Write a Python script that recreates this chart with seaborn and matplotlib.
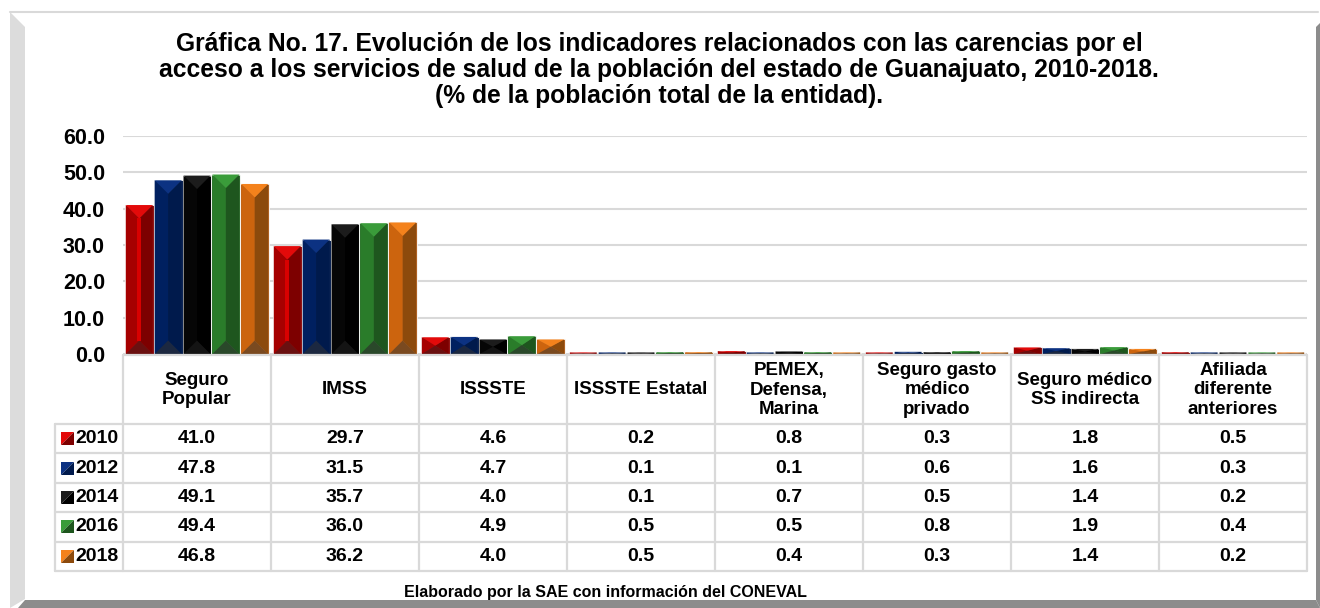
import matplotlib
matplotlib.use("Agg")
import matplotlib.pyplot as plt
import matplotlib.transforms as mtransforms
from matplotlib.patches import Polygon
import seaborn as sns
import pandas as pd

# ---- data ----
categories = ["Seguro\nPopular", "IMSS", "ISSSTE", "ISSSTE Estatal", "PEMEX,\nDefensa,\nMarina",
              "Seguro gasto\nmédico\nprivado", "Seguro médico\nSS indirecta", "Afiliada\ndiferente\nanteriores"]
years = ["2010", "2012", "2014", "2016", "2018"]
v2010 = [41.0, 29.7, 4.6, 0.2, 0.8, 0.3, 1.8, 0.5]
v2012 = [47.8, 31.5, 4.7, 0.1, 0.1, 0.6, 1.6, 0.3]
v2014 = [49.1, 35.7, 4.0, 0.1, 0.7, 0.5, 1.4, 0.2]
v2016 = [49.4, 36.0, 4.9, 0.5, 0.5, 0.8, 1.9, 0.4]
v2018 = [46.8, 36.2, 4.0, 0.5, 0.4, 0.3, 1.4, 0.2]
yticks = [0, 10, 20, 30, 40, 50, 60]

title = ("Gráfica No. 17. Evolución de los indicadores relacionados con las carencias por el\n"
         "acceso a los servicios de salud de la población del estado de Guanajuato, 2010-2018.\n"
         "(% de la población total de la entidad).")
source = "Elaborado por la SAE con información del CONEVAL"

# shades per year: top, left, right, bottom
shades = {
    "2010": ["#e30a0a", "#a60000", "#7d0000", "#6a1010"],
    "2012": ["#0c3282", "#002060", "#001a4c", "#1c2840"],
    "2014": ["#1c1c1c", "#060606", "#000000", "#141414"],
    "2016": ["#3a9c3a", "#2a7c2a", "#1e561e", "#2a482a"],
    "2018": ["#f4821c", "#cc640e", "#8c4a0c", "#7a4a20"],
}

series = [v2010, v2012, v2014, v2016, v2018]
rows = []
for yr, vals in zip(years, series):
    for c, v in zip(categories, vals):
        rows.append({"cat": c, "year": yr, "val": v})
df = pd.DataFrame(rows)

sns.set_theme(style="white")
plt.rcParams["font.family"] = ["Liberation Sans", "DejaVu Sans"]
plt.rcParams["font.weight"] = "bold"
plt.rcParams["text.color"] = "black"
plt.rcParams["ytick.color"] = "black"

W, H = 1320, 608
fig = plt.figure(figsize=(W / 100, H / 100), dpi=100)
fig.patch.set_facecolor("white")

def fx(x):
    return x / W

def fy(y):
    return 1 - y / H

ax = fig.add_axes([fx(123), fy(354), fx(1307) - fx(123), fy(136) - fy(354)])
sns.barplot(data=df, x="cat", y="val", hue="year", palette=[shades[y][1] for y in years],
            width=0.975, edgecolor="white", linewidth=0.6, legend=False, ax=ax, errorbar=None)
ax.set_xlim(-0.5, len(categories) - 0.5)
ax.set_ylim(0, 60)
ax.set_yticks(yticks)
ax.set_yticklabels([f"{t:.1f}" for t in yticks], fontsize=15.5, fontweight="bold", color="black")
ax.tick_params(axis="y", length=0, pad=13)
ax.set_xticks([])
ax.set_xlabel("")
ax.set_ylabel("")
for s in ax.spines.values():
    s.set_visible(False)
ax.grid(axis="y", color="#d9d9d9", linewidth=1.5)
ax.set_axisbelow(True)

# bevel look on each bar
p0 = ax.transData.transform((0, 0))
p1 = ax.transData.transform((1, 1))
ratio = (p1[0] - p0[0]) / (p1[1] - p0[1])
inset = 1.0 / (p1[0] - p0[0])
min_h = 1.6 / (p1[1] - p0[1])
for yr, cont in zip(years, ax.containers):
    top, left, right, bottom = shades[yr]
    for bar in cont:
        x0 = bar.get_x() + inset
        w = bar.get_width() - 2 * inset
        h = max(bar.get_height(), min_h)
        x1 = x0 + w
        xc = x0 + w / 2
        b = min(w / 2 * ratio, h / 2)
        polys = [
            ([(x0, 0), (xc, b), (xc, h - b), (x0, h)], left),
            ([(x1, 0), (xc, b), (xc, h - b), (x1, h)], right),
            ([(x0, h), (x1, h), (xc, h - b)], top),
            ([(x0, 0), (x1, 0), (xc, b)], bottom),
        ]
        for pts, col in polys:
            ax.add_patch(Polygon(pts, closed=True, facecolor=col, edgecolor="none", zorder=3))
        if yr == "2010" and h > 2 * b:
            sw = w * 0.07
            ax.add_patch(Polygon([(xc - sw, b), (xc + sw, b), (xc + sw, h - b), (xc - sw, h - b)],
                                 closed=True, facecolor="#d80000", edgecolor="none", zorder=3))

# ---- data table ----
tr = mtransforms.blended_transform_factory(ax.transData, fig.transFigure)
lc = "#d9d9d9"
head_top, head_bot = 355, 424
row_h = 29.4
n = len(categories)
table_bot = head_bot + row_h * len(years)

def hline(x0, x1, ypx, trans):
    fig.add_artist(plt.Line2D([x0, x1], [fy(ypx), fy(ypx)], transform=trans, color=lc, lw=1.6))

for i in range(n + 1):
    fig.add_artist(plt.Line2D([i - 0.5, i - 0.5], [fy(head_top), fy(table_bot)], transform=tr,
                              color=lc, lw=1.6))
hline(-0.5, n - 0.5, head_top, tr)
for r in range(len(years) + 1):
    hline(fx(55), fx(123), head_bot + r * row_h, fig.transFigure)
    hline(-0.5, n - 0.5, head_bot + r * row_h, tr)
fig.add_artist(plt.Line2D([fx(55), fx(55)], [fy(head_bot), fy(table_bot)], color=lc, lw=1.6))

for i, c in enumerate(categories):
    fig.text(i, fy((head_top + head_bot) / 2 + 0.5), c, transform=tr, ha="center", va="center",
             fontsize=13.5, fontweight="bold", linespacing=1.18)

for r, (yr, vals) in enumerate(zip(years, series)):
    yc = head_bot + (r + 0.5) * row_h
    for i, v in enumerate(vals):
        fig.text(i, fy(yc), f"{v:.1f}", transform=tr, ha="center", va="center",
                 fontsize=14, fontweight="bold")
    top, left, right, bottom = shades[yr]
    kx0, kx1, ky0, ky1 = fx(61), fx(74), fy(yc + 6.5), fy(yc - 6.5)
    fig.add_artist(Polygon([(kx0, ky0), (kx0, ky1), (kx1, ky1)], closed=True,
                           transform=fig.transFigure, facecolor=top, edgecolor="none"))
    fig.add_artist(Polygon([(kx0, ky0), (kx1, ky0), (kx1, ky1)], closed=True,
                           transform=fig.transFigure, facecolor=right, edgecolor="none"))
    fig.text(fx(75), fy(yc), yr, ha="left", va="center", fontsize=14, fontweight="bold")

# ---- title and source ----
fig.text(fx(659), fy(70), title, ha="center", va="center", fontsize=17.7, fontweight="bold",
         linespacing=1.08)
fig.text(fx(605), fy(592), source, ha="center", va="center", fontsize=11.5, fontweight="bold")

# ---- beveled frame ----
fig.add_artist(plt.Line2D([fx(10), fx(1318)], [fy(12), fy(12)], color="#d9d9d9", lw=1.5))
fig.add_artist(Polygon([(fx(10), fy(12)), (fx(25), fy(27)), (fx(25), fy(599)), (fx(10), fy(608))],
                       closed=True, transform=fig.transFigure, facecolor="#dcdcdc", edgecolor="none"))
fig.add_artist(Polygon([(fx(18), fy(608)), (fx(25), fy(600)), (fx(1316), fy(600)), (fx(1320), fy(608))],
                       closed=True, transform=fig.transFigure, facecolor="#8c8c8c", edgecolor="none"))
fig.add_artist(Polygon([(fx(1316), fy(27)), (fx(1320), fy(23)), (fx(1320), fy(608)), (fx(1316), fy(600))],
                       closed=True, transform=fig.transFigure, facecolor="#8c8c8c", edgecolor="none"))

fig.savefig("out.png", dpi=100, facecolor="white")
